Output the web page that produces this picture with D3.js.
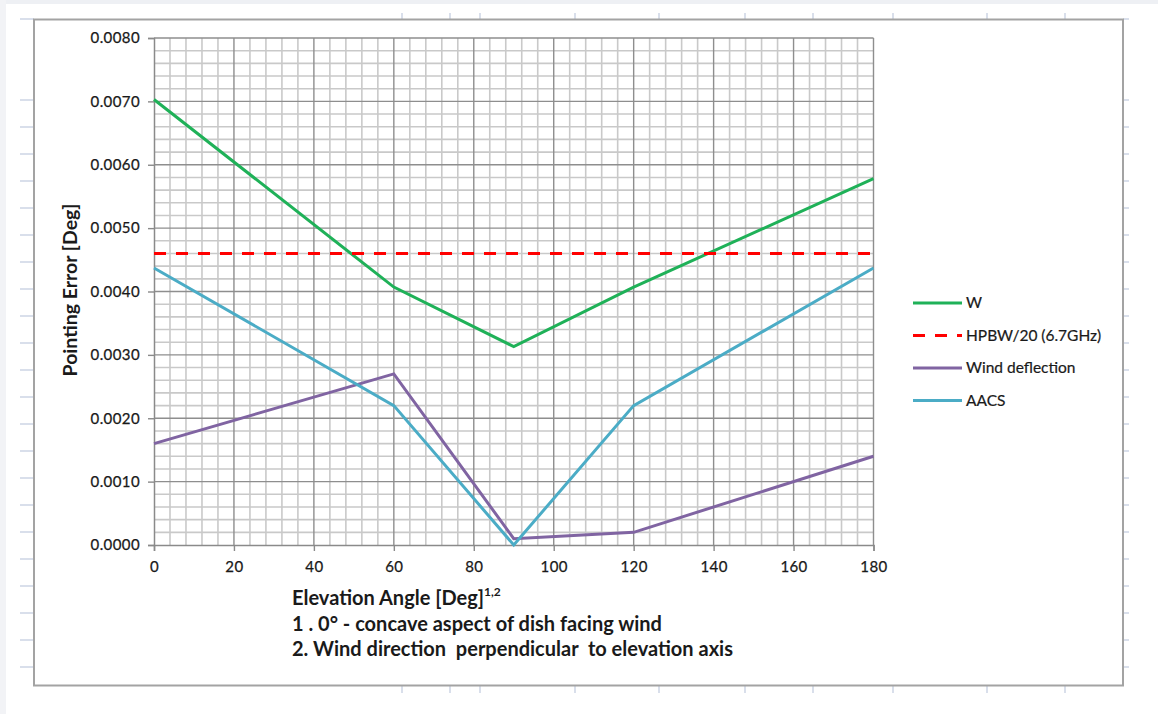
<!DOCTYPE html>
<html>
<head>
<meta charset="utf-8">
<script src="https://cdn.jsdelivr.net/npm/d3@7"></script>
<style>
  html, body { margin: 0; padding: 0; background: #ffffff; }
  svg { display: block; }
  text { font-family: Lato, "Open Sans", "Liberation Sans", sans-serif; fill: #1a1a1a; }
</style>
</head>
<body>
<svg id="chart" width="1158" height="714"></svg>
<script>
// Elevation angle samples (degrees)
const elevation = [0, 60, 90, 120, 180];

// Pointing error per contribution (degrees)
const wTotal         = [0.00703, 0.00407, 0.00313, 0.00407, 0.00578];
const hpbwLimit      = [0.0046, 0.0046, 0.0046, 0.0046, 0.0046];
const windDeflection = [0.0016, 0.0027, 0.0001, 0.0002, 0.0014];
const aacs           = [0.00437, 0.0022, 0.0, 0.0022, 0.00437];

const seriesNames = ["W", "HPBW/20 (6.7GHz)", "Wind deflection", "AACS"];

// Axis ticks
const xTicks = [0, 20, 40, 60, 80, 100, 120, 140, 160, 180];
const yTicks = [0, 0.001, 0.002, 0.003, 0.004, 0.005, 0.006, 0.007, 0.008];

const series = [
  { name: seriesNames[0], values: wTotal,         color: "#1fb158", dash: null },
  { name: seriesNames[1], values: hpbwLimit,      color: "#ff0000", dash: "12,10" },
  { name: seriesNames[2], values: windDeflection, color: "#8064a2", dash: null },
  { name: seriesNames[3], values: aacs,           color: "#4bacc6", dash: null }
];

const svg = d3.select("#chart");
const W = 1158, H = 714;

// ---- worksheet backdrop ----
svg.append("rect").attr("width", W).attr("height", H).attr("fill", "#ffffff");
svg.append("rect").attr("x", 0).attr("y", 0).attr("width", W).attr("height", 4).attr("fill", "#eef0f4");
svg.append("rect").attr("x", 0).attr("y", 0).attr("width", 6).attr("height", H).attr("fill", "#f2f3f6");

const cellLine = "#cdd4e4";
const rowYs = [19].concat(d3.range(100, 668, 27));
const colXs = [402, 450, 480, 575, 659, 745, 813, 893, 987, 1065];
const deco = svg.append("g").attr("stroke", cellLine).attr("stroke-width", 1.5);
rowYs.forEach(y => {
  deco.append("line").attr("x1", 20).attr("x2", 34).attr("y1", y).attr("y2", y);
  deco.append("line").attr("x1", 1123).attr("x2", 1129).attr("y1", y).attr("y2", y);
});
colXs.forEach(x => {
  deco.append("line").attr("x1", x).attr("x2", x).attr("y1", 13).attr("y2", 19);
  deco.append("line").attr("x1", x).attr("x2", x).attr("y1", 686).attr("y2", 693);
});

// chart area frame
svg.append("rect")
  .attr("x", 34).attr("y", 19.5).attr("width", 1089).attr("height", 666)
  .attr("fill", "#ffffff").attr("stroke", "#a3a3a3").attr("stroke-width", 2);

// ---- plot area ----
const plot = { left: 154, right: 873.5, top: 38, bottom: 545 };
const x = d3.scaleLinear().domain([0, 180]).range([plot.left, plot.right]);
const y = d3.scaleLinear().domain([0, 0.008]).range([plot.bottom, plot.top]);

const grid = svg.append("g");
// minor gridlines: every 4 deg and every 0.0002 deg
const xMinor = d3.range(0, 181, 4).filter(v => v % 20 !== 0);
const yMinor = d3.range(1, 40).filter(i => i % 5 !== 0).map(i => i * 0.0002);
grid.selectAll(".vmin").data(xMinor).join("line")
  .attr("x1", d => x(d)).attr("x2", d => x(d))
  .attr("y1", plot.top).attr("y2", plot.bottom)
  .attr("stroke", "#c9c9c9").attr("stroke-width", 1.6);
grid.selectAll(".hmin").data(yMinor).join("line")
  .attr("x1", plot.left).attr("x2", plot.right)
  .attr("y1", d => y(d)).attr("y2", d => y(d))
  .attr("stroke", "#c9c9c9").attr("stroke-width", 1.6);
// major gridlines
grid.selectAll(".vmaj").data(xTicks.slice(1)).join("line")
  .attr("x1", d => x(d)).attr("x2", d => x(d))
  .attr("y1", plot.top).attr("y2", plot.bottom)
  .attr("stroke", "#8e8e8e").attr("stroke-width", 1.4);
grid.selectAll(".hmaj").data(yTicks.slice(1)).join("line")
  .attr("x1", plot.left).attr("x2", plot.right)
  .attr("y1", d => y(d)).attr("y2", d => y(d))
  .attr("stroke", "#8e8e8e").attr("stroke-width", 1.4);

// axes
const yAxis = svg.append("g")
  .attr("transform", `translate(${plot.left},0)`)
  .call(d3.axisLeft(y).tickValues(yTicks).tickFormat(d3.format(".4f")).tickSize(6).tickPadding(8));
const xAxis = svg.append("g")
  .attr("transform", `translate(0,${plot.bottom})`)
  .call(d3.axisBottom(x).tickValues(xTicks).tickSize(6).tickPadding(10));
[xAxis, yAxis].forEach(g => {
  g.select(".domain").attr("stroke", "#8a8a8a").attr("stroke-width", 1.5);
  g.selectAll(".tick line").attr("stroke", "#8a8a8a").attr("stroke-width", 1.4);
  g.selectAll(".tick text")
    .attr("font-family", "Lato, 'Open Sans', sans-serif")
    .attr("font-size", 15).attr("fill", "#151515").attr("letter-spacing", 0.4)
    .attr("stroke", "#151515").attr("stroke-width", 0.25);
});

// series lines
const line = d3.line().x((d, i) => x(elevation[i])).y(d => y(d));
svg.append("g").selectAll("path").data(series).join("path")
  .attr("d", s => line(s.values))
  .attr("fill", "none")
  .attr("stroke", s => s.color)
  .attr("stroke-width", 3)
  .attr("stroke-dasharray", s => s.dash)
  .attr("stroke-linejoin", "miter");

// axis titles
svg.append("text")
  .attr("transform", "translate(77,290) rotate(-90)")
  .attr("text-anchor", "middle")
  .attr("font-weight", "bold").attr("font-size", 19.5)
  .text("Pointing Error [Deg]");

const xt = svg.append("text")
  .attr("x", 292).attr("y", 605)
  .attr("font-weight", "bold").attr("font-size", 20);
xt.append("tspan").text("Elevation Angle [Deg]");
xt.append("tspan").attr("dy", -9).attr("font-size", 12).text("1,2");

svg.append("text")
  .attr("x", 292).attr("y", 631)
  .attr("font-weight", "bold").attr("font-size", 20)
  .text("1 . 0° - concave aspect of dish facing wind");
svg.append("text")
  .attr("x", 292).attr("y", 656)
  .attr("font-weight", "bold").attr("font-size", 20)
  .attr("xml:space", "preserve")
  .text("2. Wind direction  perpendicular  to elevation axis");

// legend
const legend = svg.append("g").attr("transform", "translate(913,303)");
const item = legend.selectAll("g").data(series).join("g")
  .attr("transform", (d, i) => `translate(0,${i * 32.5})`);
item.append("line")
  .attr("x1", 0).attr("x2", 49).attr("y1", 0).attr("y2", 0)
  .attr("stroke", d => d.color).attr("stroke-width", 3)
  .attr("stroke-dasharray", d => d.dash);
item.append("text")
  .attr("x", 53).attr("y", 0).attr("dy", "0.35em")
  .attr("font-size", 15.5)
  .attr("stroke", "#1a1a1a").attr("stroke-width", 0.2)
  .text(d => d.name);
</script>
</body>
</html>
